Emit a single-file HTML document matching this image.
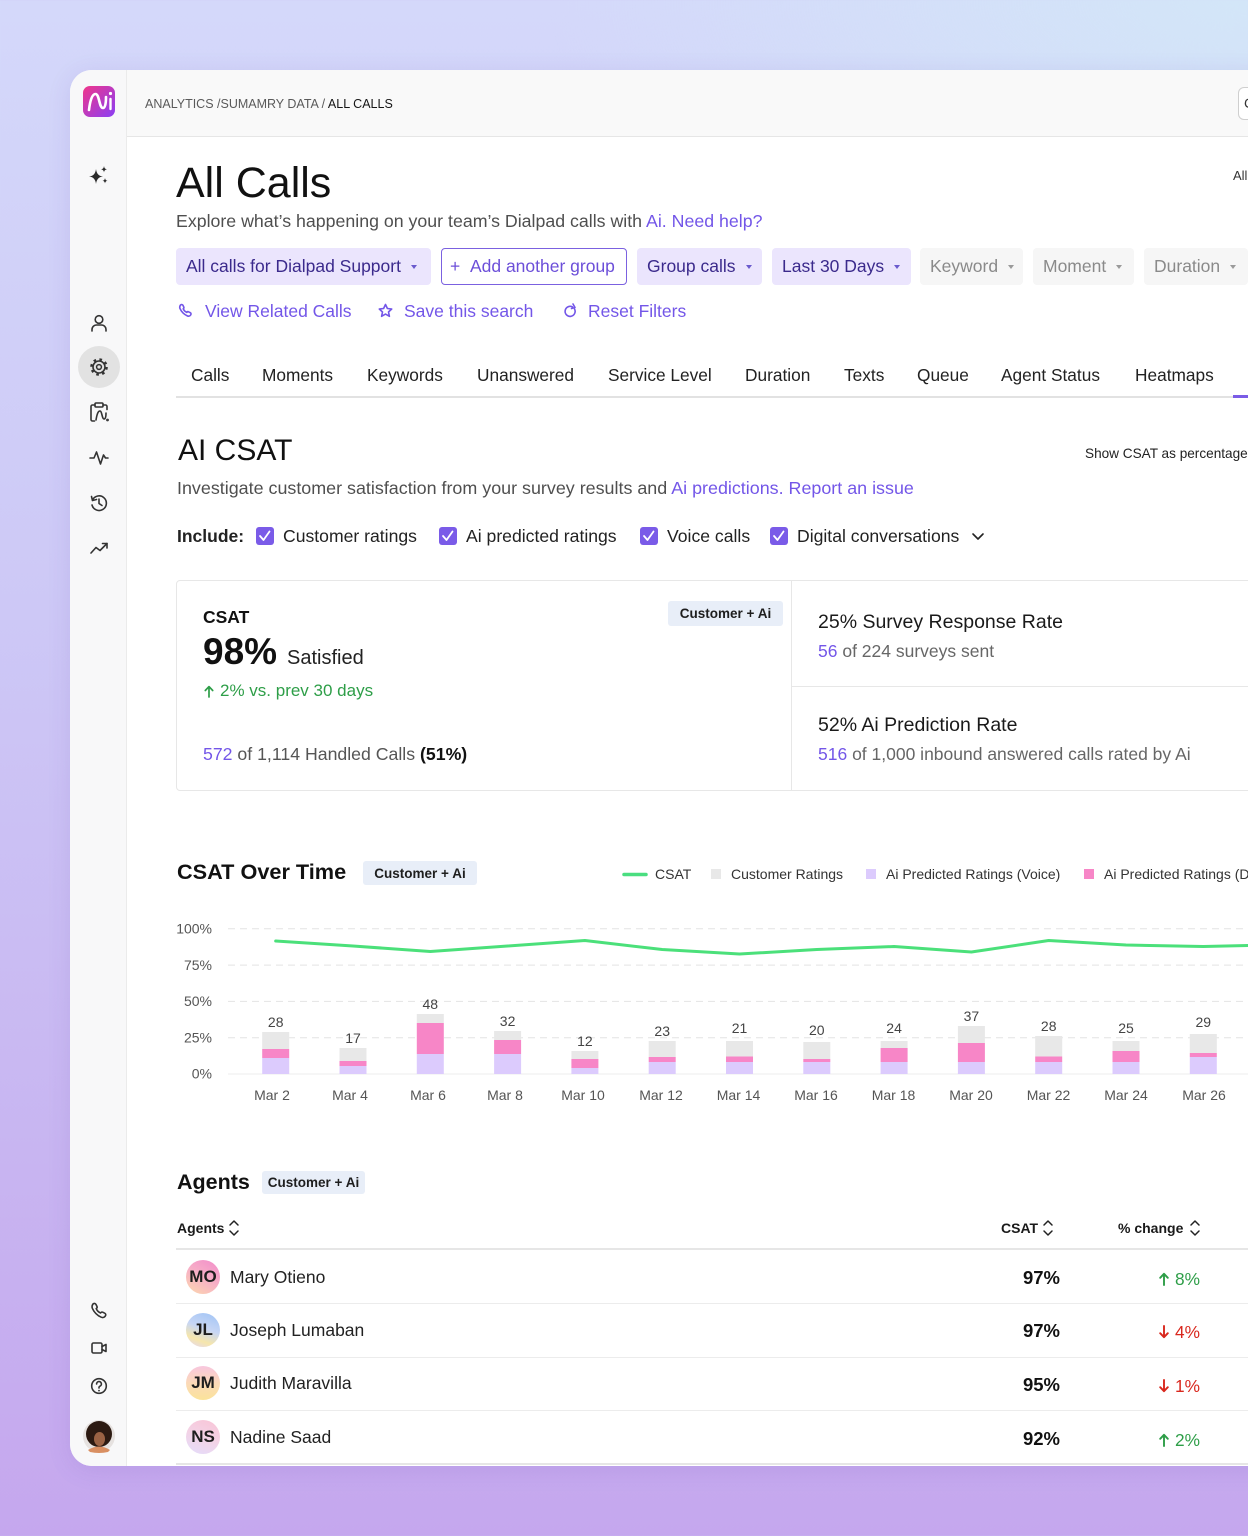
<!DOCTYPE html>
<html><head><meta charset="utf-8">
<style>
*{box-sizing:border-box}
body{margin:0;width:1248px;height:1536px;overflow:hidden;position:relative;font-family:"Liberation Sans",Arial,sans-serif;
background:radial-gradient(ellipse 700px 300px at 100% 0%,#d3e6f8 0%,rgba(211,230,248,0) 100%),linear-gradient(180deg,#d4d8fa 0%,#cdc8f6 40%,#c8b5f1 75%,#c5a7ee 100%);}
.t{position:absolute;white-space:nowrap;line-height:20px;color:#222}
.p{color:#7356e8}
.chip{position:absolute;top:248px;height:37px;border-radius:4px;background:#ebe5fd;color:#3b2a8c;font-size:17.5px;display:flex;align-items:center;padding:0 10px;white-space:nowrap}
.chip .c{display:inline-block;width:0;height:0;border-left:3.5px solid transparent;border-right:3.5px solid transparent;border-top:4.5px solid #6a5acd;margin-left:10px;margin-top:1px}
.chip.g{background:#f6f6f6;color:#8a8a8a}
.chip.g .c{border-top-color:#9a9a9a}
.tab{position:absolute;top:365px;font-size:17.3px;line-height:20px;color:#222;white-space:nowrap}
.cb{position:absolute;top:527px;width:18px;height:18px;border-radius:3px;background:#7a5be8}
.badge{position:absolute;background:#e8eef8;border-radius:3px;font-weight:bold;font-size:13.5px;color:#1e1e1e;display:flex;align-items:center;justify-content:center;white-space:nowrap}
.av{position:absolute;left:186px;width:34px;height:34px;border-radius:50%;display:flex;align-items:center;justify-content:center;font-weight:bold;font-size:17px;color:#1e1e1e}
.nm{position:absolute;left:230px;font-size:17.5px;line-height:20px;color:#222;white-space:nowrap}
.cs{position:absolute;left:960px;width:100px;text-align:right;font-weight:bold;font-size:18.5px;line-height:20px;color:#111}
.ch{position:absolute;left:1100px;width:100px;text-align:right;font-size:17.3px;line-height:20px;white-space:nowrap}
.ch svg{margin-right:6px;vertical-align:-1px}
.up{color:#2e9e48}.dn{color:#d9281e}
.sep{position:absolute;left:176px;width:1072px;height:1px;background:#ececec}
</style></head><body>

<!-- app window -->
<div style="position:absolute;left:70px;top:70px;width:1220px;height:1396px;background:#fff;border-radius:22px 0 0 22px;overflow:hidden;box-shadow:0 4px 24px rgba(90,60,170,.12)">
  <div style="position:absolute;left:0;top:0;width:57px;height:1396px;background:#f8f8f9;border-right:1px solid #ebebeb"></div>
  <div style="position:absolute;left:57px;top:0;width:1163px;height:67px;background:#f9f9f9;border-bottom:1px solid #e6e6e6"></div>
</div>
<div style="position:absolute;left:1238px;top:87px;width:30px;height:33px;border:1px solid #cfcfcf;border-radius:6px;background:#fff"></div>
<div class="t" style="left:1244px;top:93px;font-size:14px;color:#333">C</div>

<!-- header -->
<div class="t" style="left:145px;top:94px;font-size:12.5px;color:#5a5a5a">ANALYTICS /SUMAMRY DATA / <span style="color:#161616">ALL CALLS</span></div>
<div class="t" style="left:176px;top:158px;font-size:43px;line-height:50px;color:#111">All Calls</div>
<div class="t" style="left:1233px;top:166px;font-size:13px;color:#333">All</div>
<div class="t" style="left:176px;top:211px;font-size:17.75px;color:#4f4f4f">Explore what’s happening on your team’s Dialpad calls with <span class="p">Ai. Need help?</span></div>

<!-- chips -->
<div class="chip" style="left:176px;width:255px">All calls for Dialpad Support<span class="c"></span></div>
<div class="chip" style="left:441px;width:186px;background:#fff;border:1px solid #7b61e0;color:#6c4fd9;padding-left:8px">+&nbsp;&nbsp;Add another group</div>
<div class="chip" style="left:637px;width:125px">Group calls<span class="c"></span></div>
<div class="chip" style="left:772px;width:139px">Last 30 Days<span class="c"></span></div>
<div class="chip g" style="left:920px;width:103px">Keyword<span class="c"></span></div>
<div class="chip g" style="left:1033px;width:101px">Moment<span class="c"></span></div>
<div class="chip g" style="left:1144px;width:104px">Duration<span class="c"></span></div>

<!-- links -->
<div class="t p" style="left:205px;top:301px;font-size:17.5px">View Related Calls</div>
<div class="t p" style="left:404px;top:301px;font-size:17.5px">Save this search</div>
<div class="t p" style="left:588px;top:301px;font-size:17.5px">Reset Filters</div>

<!-- tabs -->
<div class="tab" style="left:191px">Calls</div>
<div class="tab" style="left:262px">Moments</div>
<div class="tab" style="left:367px">Keywords</div>
<div class="tab" style="left:477px">Unanswered</div>
<div class="tab" style="left:608px">Service Level</div>
<div class="tab" style="left:745px">Duration</div>
<div class="tab" style="left:844px">Texts</div>
<div class="tab" style="left:917px">Queue</div>
<div class="tab" style="left:1001px">Agent Status</div>
<div class="tab" style="left:1135px">Heatmaps</div>
<div style="position:absolute;left:176px;top:396px;width:1072px;height:2px;background:#e2e2e2"></div>
<div style="position:absolute;left:1233px;top:395px;width:15px;height:3px;background:#7a5ce6"></div>

<!-- AI CSAT -->
<div class="t" style="left:178px;top:434px;font-size:30px;line-height:34px;color:#111">AI CSAT</div>
<div class="t" style="left:1085px;top:444px;font-size:13.6px;color:#222">Show CSAT as percentage</div>
<div class="t" style="left:177px;top:478px;font-size:17.9px;color:#4f4f4f">Investigate customer satisfaction from your survey results and <span class="p">Ai predictions. Report an issue</span></div>
<div class="t" style="left:177px;top:526px;font-size:17.5px;font-weight:bold;color:#222">Include:</div>
<div class="cb" style="left:256px"></div>
<div class="cb" style="left:439px"></div>
<div class="cb" style="left:640px"></div>
<div class="cb" style="left:770px"></div>
<div class="t" style="left:283px;top:526px;font-size:17.6px">Customer ratings</div>
<div class="t" style="left:466px;top:526px;font-size:17.6px">Ai predicted ratings</div>
<div class="t" style="left:667px;top:526px;font-size:17.6px">Voice calls</div>
<div class="t" style="left:797px;top:526px;font-size:17.6px">Digital conversations</div>

<!-- card -->
<div style="position:absolute;left:176px;top:580px;width:1100px;height:211px;border:1px solid #e7e7e7;border-radius:4px"></div>
<div style="position:absolute;left:791px;top:581px;width:1px;height:209px;background:#e7e7e7"></div>
<div style="position:absolute;left:792px;top:686px;width:460px;height:1px;background:#e7e7e7"></div>
<div class="t" style="left:203px;top:607px;font-size:17.5px;font-weight:bold;color:#111">CSAT</div>
<div class="t" style="left:203px;top:630px;font-size:37px;line-height:44px;font-weight:bold;color:#111">98%</div>
<div class="t" style="left:287px;top:636px;font-size:20px;line-height:44px;color:#222">Satisfied</div>
<svg style="position:absolute;left:204px;top:685px" width="10" height="13" viewBox="0 0 10 13"><path d="M5 12 V2 M1.3 5.5 L5 1.6 L8.7 5.5" stroke="#2e9e48" stroke-width="1.7" fill="none" stroke-linecap="round" stroke-linejoin="round"/></svg>
<div class="t up" style="left:220px;top:681px;font-size:17px">2% vs. prev 30 days</div>
<div class="t" style="left:203px;top:744px;font-size:17.7px;color:#555"><span class="p">572</span> of 1,114 Handled Calls <b style="color:#111">(51%)</b></div>
<div class="badge" style="left:668px;top:601px;width:115px;height:25px">Customer + Ai</div>
<div class="t" style="left:818px;top:611px;font-size:19.5px;line-height:22px;color:#1a1a1a">25% Survey Response Rate</div>
<div class="t" style="left:818px;top:641px;font-size:17.5px;color:#666"><span class="p">56</span> of 224 surveys sent</div>
<div class="t" style="left:818px;top:714px;font-size:19.5px;line-height:22px;color:#1a1a1a">52% Ai Prediction Rate</div>
<div class="t" style="left:818px;top:744px;font-size:17.5px;color:#666"><span class="p">516</span> of 1,000 inbound answered calls rated by Ai</div>

<!-- CSAT over time header -->
<div class="t" style="left:177px;top:860px;font-size:21.7px;line-height:24px;font-weight:bold;color:#111">CSAT Over Time</div>
<div class="badge" style="left:363px;top:861px;width:114px;height:24px">Customer + Ai</div>
<div class="t" style="left:655px;top:864px;font-size:14px;color:#333">CSAT</div>
<div class="t" style="left:731px;top:864px;font-size:14px;color:#333">Customer Ratings</div>
<div class="t" style="left:886px;top:864px;font-size:14px;color:#333">Ai Predicted Ratings (Voice)</div>
<div class="t" style="left:1104px;top:864px;font-size:14px;color:#333">Ai Predicted Ratings (Digital)</div>

<!-- Agents -->
<div class="t" style="left:177px;top:1170px;font-size:21.5px;line-height:24px;font-weight:bold;color:#111">Agents</div>
<div class="badge" style="left:262px;top:1171px;width:103px;height:23px">Customer + Ai</div>
<div class="t" style="left:177px;top:1218px;font-size:14px;font-weight:bold;color:#1a1a1a">Agents</div>
<div class="t" style="left:1001px;top:1218px;font-size:14px;font-weight:bold;color:#1a1a1a">CSAT</div>
<div class="t" style="left:1118px;top:1218px;font-size:14px;font-weight:bold;color:#1a1a1a">% change</div>
<div style="position:absolute;left:176px;top:1248px;width:1072px;height:2px;background:#e6e6e6"></div>
<div class="sep" style="top:1303px"></div>
<div class="sep" style="top:1357px"></div>
<div class="sep" style="top:1410px"></div>
<div class="sep" style="top:1463px;height:2px;background:#e6e6e6"></div>

<div class="av" style="top:1260px;background:linear-gradient(210deg,#f28ccb 0%,#f7b0c6 50%,#fcd9ae 100%)">MO</div>
<div class="av" style="top:1313px;background:linear-gradient(200deg,#9fc3f5 0%,#c7d6f5 45%,#f6e6ab 75%,#e2d6fb 100%)">JL</div>
<div class="av" style="top:1366px;background:linear-gradient(180deg,#f8c6de 0%,#fbd9b8 50%,#fbe39a 100%)">JM</div>
<div class="av" style="top:1420px;background:linear-gradient(200deg,#f9c4d6 0%,#f3d3e6 50%,#e4dcfb 100%)">NS</div>
<div class="nm" style="top:1267px">Mary Otieno</div>
<div class="nm" style="top:1320px">Joseph Lumaban</div>
<div class="nm" style="top:1373px">Judith Maravilla</div>
<div class="nm" style="top:1427px">Nadine Saad</div>
<div class="cs" style="top:1268px">97%</div>
<div class="cs" style="top:1321px">97%</div>
<div class="cs" style="top:1375px">95%</div>
<div class="cs" style="top:1429px">92%</div>
<div class="ch up" style="top:1269px"><svg width="10" height="14" viewBox="0 0 10 14"><path d="M5 13 V2 M1.2 5.8 L5 1.8 L8.8 5.8" stroke="#2e9e48" stroke-width="1.9" fill="none" stroke-linecap="round" stroke-linejoin="round"/></svg>8%</div>
<div class="ch dn" style="top:1322px"><svg width="10" height="14" viewBox="0 0 10 14"><path d="M5 1 V12 M1.2 8.2 L5 12.2 L8.8 8.2" stroke="#d9281e" stroke-width="1.9" fill="none" stroke-linecap="round" stroke-linejoin="round"/></svg>4%</div>
<div class="ch dn" style="top:1376px"><svg width="10" height="14" viewBox="0 0 10 14"><path d="M5 1 V12 M1.2 8.2 L5 12.2 L8.8 8.2" stroke="#d9281e" stroke-width="1.9" fill="none" stroke-linecap="round" stroke-linejoin="round"/></svg>1%</div>
<div class="ch up" style="top:1430px"><svg width="10" height="14" viewBox="0 0 10 14"><path d="M5 13 V2 M1.2 5.8 L5 1.8 L8.8 5.8" stroke="#2e9e48" stroke-width="1.9" fill="none" stroke-linecap="round" stroke-linejoin="round"/></svg>2%</div>

<!-- graphics overlay -->
<svg style="position:absolute;left:0;top:0" width="1248" height="1536" viewBox="0 0 1248 1536" font-family="Liberation Sans, Arial, sans-serif">
<defs>
<linearGradient id="lg" x1="0" y1="0" x2="1" y2="1"><stop offset="0" stop-color="#f0368a"/><stop offset="1" stop-color="#8a3ff5"/></linearGradient>
</defs>
<!-- logo -->
<rect x="83" y="86" width="32" height="31" rx="7" fill="url(#lg)"/>
<path d="M89 110 C90 101 92 94 95.5 94 C99.5 94 99 108 103 108 C105.5 108 106 102 106 97" stroke="#fff" stroke-width="2.6" fill="none" stroke-linecap="round"/>
<circle cx="110.5" cy="93.5" r="1.6" fill="#fff"/>
<path d="M110.5 99 V109" stroke="#fff" stroke-width="2.4" stroke-linecap="round"/>

<!-- sidebar icons -->
<g fill="#2a2a2a">
<path d="M96 169 Q96.8 176 103 176.5 Q96.8 177 96 184 Q95.2 177 89 176.5 Q95.2 176 96 169Z"/>
<path d="M104 166 Q104.3 169 107 169.3 Q104.3 169.6 104 172.5 Q103.7 169.6 101 169.3 Q103.7 169 104 166Z"/>
<path d="M105 178 Q105.3 180.5 107.5 180.8 Q105.3 181.1 105 183.5 Q104.7 181.1 102.5 180.8 Q104.7 180.5 105 178Z"/>
</g>
<g stroke="#333" stroke-width="1.6" fill="none" stroke-linecap="round" stroke-linejoin="round">
<circle cx="99" cy="319.5" r="3.8"/>
<path d="M92 331 v-1.5 a4.5 4.5 0 0 1 4.5 -4.5 h5 a4.5 4.5 0 0 1 4.5 4.5 v1.5"/>
</g>
<circle cx="99" cy="367" r="21" fill="#e2e2e2"/>
<g stroke="#333" fill="none">
<circle cx="99" cy="367" r="6" stroke-width="1.6"/>
<circle cx="99" cy="367" r="7.6" stroke-width="2.4" stroke-dasharray="2.6 3.4"/>
<circle cx="99" cy="367" r="2.4" stroke-width="1.5"/>
</g>
<g stroke="#333" stroke-width="1.6" fill="none" stroke-linecap="round" stroke-linejoin="round">
<path d="M95 405 h-2.5 a1.5 1.5 0 0 0 -1.5 1.5 v13 a1.5 1.5 0 0 0 1.5 1.5 h2"/>
<path d="M103 405 h2.5 a1.5 1.5 0 0 1 1.5 1.5 v3"/>
<rect x="95" y="403" width="8" height="4" rx="1"/>
<path d="M96 420 C97 414 98 411 100 411 C102 411 102 419 104 419 C105.5 419 106 416 106 413"/>
<circle cx="107.5" cy="420" r="0.6"/>
<polyline points="90,458 94,458 96.5,452 100.5,464 103.5,455 105.5,458 108,458"/>
<path d="M92.5 500 A7.3 7.3 0 1 1 92 505"/>
<polyline points="91.5,496.5 92.5,500.5 96.5,499.5"/>
<polyline points="99,499 99,503.5 102,505.5"/>
<polyline points="91,553 96,547.5 100,550.5 107,543.5"/>
<polyline points="102.5,543.5 107,543.5 107,548"/>
<path d="M93 1304 c1.5-1 2.5-0.5 3 0.5 l1 2 c0.4 0.9 0 1.6-0.8 2.1 c0.8 2 2.4 3.6 4.4 4.4 c0.5-0.8 1.2-1.2 2.1-0.8 l2 1 c1 0.5 1.5 1.5 0.5 3 c-0.8 1.2-2.5 1.7-4 1 c-4-1.8-7-4.8-8.8-8.8 c-0.7-1.5-0.2-3.2 0.6-4.4z"/>
<rect x="92" y="1343" width="10" height="10" rx="1.5"/>
<polyline points="102,1346.5 106,1344.5 106,1351.5 102,1349.5"/>
<circle cx="99" cy="1386" r="7.3"/>
<path d="M96.6 1384 a2.4 2.4 0 1 1 3.2 2.2 c-0.6 0.3-0.8 0.7-0.8 1.3 v0.5"/>
</g>
<circle cx="99" cy="1390.6" r="0.9" fill="#333"/>
<!-- user avatar -->
<circle cx="99" cy="1436" r="16" fill="#e6e2e0"/>
<circle cx="99" cy="1434" r="13" fill="#2c1a12"/>
<ellipse cx="99.5" cy="1439" rx="5.5" ry="7" fill="#9a6244"/>
<path d="M88 1450 Q99 1443 110 1450 L108 1452 Q99 1454 90 1452Z" fill="#d98f62"/>

<!-- link icons -->
<g stroke="#7356e8" stroke-width="1.6" fill="none" stroke-linecap="round" stroke-linejoin="round">
<path d="M180.5 305 c1.2-0.8 2.1-0.4 2.5 0.4 l0.8 1.7 c0.3 0.7 0 1.3-0.6 1.7 c0.7 1.6 2 2.9 3.6 3.6 c0.4-0.6 1-1 1.7-0.6 l1.7 0.8 c0.8 0.4 1.2 1.3 0.4 2.5 c-0.7 1-2 1.4-3.3 0.8 c-3.3-1.5-5.8-4-7.3-7.3 c-0.6-1.3-0.2-2.6 0.5-3.6z"/>
<path d="M385.5 304.5 l1.9 4 4.3 0.5 -3.2 3 0.9 4.3 -3.9 -2.2 -3.9 2.2 0.9 -4.3 -3.2 -3 4.3 -0.5z"/>
<path d="M574.5 309 A5 5 0 1 1 572.5 307"/>
<polyline points="573,304 575,307.5 571.5,308.5"/>
</g>

<!-- checkboxes -->
<g stroke="#fff" stroke-width="1.8" fill="none" stroke-linecap="round" stroke-linejoin="round">
<polyline points="260,536 263.5,540 269.5,531.5"/>
<polyline points="443,536 446.5,540 452.5,531.5"/>
<polyline points="644,536 647.5,540 653.5,531.5"/>
<polyline points="774,536 777.5,540 783.5,531.5"/>
</g>
<polyline points="973,534 978,539 983,534" stroke="#222" stroke-width="1.6" fill="none" stroke-linecap="round" stroke-linejoin="round"/>

<!-- sort icons -->
<g stroke="#222" stroke-width="1.5" fill="none" stroke-linecap="round" stroke-linejoin="round">
<path d="M230 1225 L234 1221 L238 1225 M230 1231 L234 1235 L238 1231"/>
<path d="M1044 1225 L1048 1221 L1052 1225 M1044 1231 L1048 1235 L1052 1231"/>
<path d="M1191 1225 L1195 1221 L1199 1225 M1191 1231 L1195 1235 L1199 1231"/>
</g>

<!-- legend -->
<line x1="624" y1="874.5" x2="646" y2="874.5" stroke="#4ade80" stroke-width="3.5" stroke-linecap="round"/>
<rect x="711" y="869" width="10" height="10" fill="#e8e8e8"/>
<rect x="866" y="869" width="10" height="10" fill="#dccbfd"/>
<rect x="1084" y="869" width="10" height="10" fill="#f786c7"/>

<!-- chart grid -->
<g stroke="#e4e4e4" stroke-width="1" stroke-dasharray="7 5">
<line x1="228" y1="928.8" x2="1248" y2="928.8"/>
<line x1="228" y1="965.1" x2="1248" y2="965.1"/>
<line x1="228" y1="1001.4" x2="1248" y2="1001.4"/>
<line x1="228" y1="1037.7" x2="1248" y2="1037.7"/>
</g>
<line x1="228" y1="1074" x2="1248" y2="1074" stroke="#ececec" stroke-width="1"/>
<g font-size="14" fill="#555" text-anchor="end">
<text x="212" y="933.5">100%</text>
<text x="212" y="969.8">75%</text>
<text x="212" y="1006.1">50%</text>
<text x="212" y="1042.4">25%</text>
<text x="212" y="1078.7">0%</text>
</g>

<!-- bars -->
<g>
<rect x="262.2" y="1032" width="27" height="17" fill="#e8e8e8"/><rect x="262.2" y="1049" width="27" height="9" fill="#f786c7"/><rect x="262.2" y="1058" width="27" height="16" fill="#dccbfd"/>
<rect x="339.5" y="1048" width="27" height="13" fill="#e8e8e8"/><rect x="339.5" y="1061" width="27" height="5" fill="#f786c7"/><rect x="339.5" y="1066" width="27" height="8" fill="#dccbfd"/>
<rect x="416.8" y="1014" width="27" height="9" fill="#e8e8e8"/><rect x="416.8" y="1023" width="27" height="31" fill="#f786c7"/><rect x="416.8" y="1054" width="27" height="20" fill="#dccbfd"/>
<rect x="494.1" y="1031" width="27" height="9" fill="#e8e8e8"/><rect x="494.1" y="1040" width="27" height="14" fill="#f786c7"/><rect x="494.1" y="1054" width="27" height="20" fill="#dccbfd"/>
<rect x="571.4" y="1051" width="27" height="8" fill="#e8e8e8"/><rect x="571.4" y="1059" width="27" height="9" fill="#f786c7"/><rect x="571.4" y="1068" width="27" height="6" fill="#dccbfd"/>
<rect x="648.7" y="1041" width="27" height="16" fill="#e8e8e8"/><rect x="648.7" y="1057" width="27" height="5" fill="#f786c7"/><rect x="648.7" y="1062" width="27" height="12" fill="#dccbfd"/>
<rect x="726" y="1041" width="27" height="15.5" fill="#e8e8e8"/><rect x="726" y="1056.5" width="27" height="5.5" fill="#f786c7"/><rect x="726" y="1062" width="27" height="12" fill="#dccbfd"/>
<rect x="803.3" y="1042" width="27" height="17" fill="#e8e8e8"/><rect x="803.3" y="1059" width="27" height="3" fill="#f786c7"/><rect x="803.3" y="1062" width="27" height="12" fill="#dccbfd"/>
<rect x="880.6" y="1041" width="27" height="7" fill="#e8e8e8"/><rect x="880.6" y="1048" width="27" height="14" fill="#f786c7"/><rect x="880.6" y="1062" width="27" height="12" fill="#dccbfd"/>
<rect x="957.9" y="1026" width="27" height="17" fill="#e8e8e8"/><rect x="957.9" y="1043" width="27" height="19" fill="#f786c7"/><rect x="957.9" y="1062" width="27" height="12" fill="#dccbfd"/>
<rect x="1035.2" y="1036" width="27" height="20.5" fill="#e8e8e8"/><rect x="1035.2" y="1056.5" width="27" height="5.5" fill="#f786c7"/><rect x="1035.2" y="1062" width="27" height="12" fill="#dccbfd"/>
<rect x="1112.5" y="1041" width="27" height="10" fill="#e8e8e8"/><rect x="1112.5" y="1051" width="27" height="11" fill="#f786c7"/><rect x="1112.5" y="1062" width="27" height="12" fill="#dccbfd"/>
<rect x="1189.8" y="1034" width="27" height="19" fill="#e8e8e8"/><rect x="1189.8" y="1053" width="27" height="4" fill="#f786c7"/><rect x="1189.8" y="1057" width="27" height="17" fill="#dccbfd"/>
</g>
<g font-size="14" fill="#444" text-anchor="middle">
<text x="275.7" y="1027">28</text>
<text x="353" y="1043">17</text>
<text x="430.3" y="1009">48</text>
<text x="507.6" y="1026">32</text>
<text x="584.9" y="1046">12</text>
<text x="662.2" y="1036">23</text>
<text x="739.5" y="1033">21</text>
<text x="816.8" y="1035">20</text>
<text x="894.1" y="1033">24</text>
<text x="971.4" y="1021">37</text>
<text x="1048.7" y="1031">28</text>
<text x="1126" y="1033">25</text>
<text x="1203.3" y="1027">29</text>
</g>
<polyline fill="none" stroke="#4be07a" stroke-width="3" stroke-linejoin="round" stroke-linecap="round"
points="275.7,941 353,946 430.3,951.5 507.6,946 584.9,940.5 662.2,949.5 739.5,954 816.8,949.5 894.1,946.5 971.4,952 1048.7,940.5 1126,945 1203.3,946.5 1250,945.5"/>
<g font-size="14" fill="#555" text-anchor="middle">
<text x="272" y="1100">Mar 2</text>
<text x="350" y="1100">Mar 4</text>
<text x="428" y="1100">Mar 6</text>
<text x="505" y="1100">Mar 8</text>
<text x="583" y="1100">Mar 10</text>
<text x="661" y="1100">Mar 12</text>
<text x="738.5" y="1100">Mar 14</text>
<text x="816" y="1100">Mar 16</text>
<text x="893.5" y="1100">Mar 18</text>
<text x="971" y="1100">Mar 20</text>
<text x="1048.5" y="1100">Mar 22</text>
<text x="1126" y="1100">Mar 24</text>
<text x="1204" y="1100">Mar 26</text>
</g>
</svg>
</body></html>
